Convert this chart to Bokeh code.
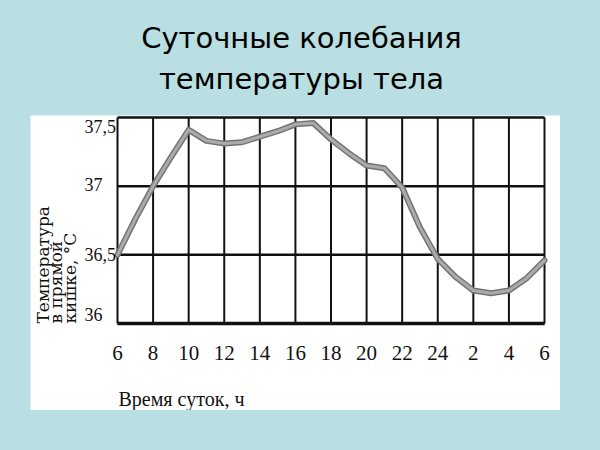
import math
from bokeh.plotting import figure
from bokeh.models import Range1d, Div, GlobalInlineStyleSheet
from bokeh.core.properties import value
from bokeh.layouts import column
from bokeh.embed import file_html
from bokeh.resources import INLINE

# ---- data ----
hours = list(range(0, 25))  # hours elapsed since 6:00
temps = [36.50, 36.76, 37.00, 37.21, 37.41, 37.33, 37.31, 37.32, 37.36, 37.40,
         37.45, 37.46, 37.34, 37.24, 37.15, 37.13, 36.99, 36.70, 36.47, 36.34,
         36.24, 36.22, 36.24, 36.33, 36.46]
x_ticks = list(range(0, 25, 2))
x_tick_labels = ["6", "8", "10", "12", "14", "16", "18", "20", "22", "24", "2", "4", "6"]
y_ticks = [36.0, 36.5, 37.0, 37.5]
y_tick_labels = ["36", "36,5", "37", "37,5"]
title_lines = ["Суточные колебания", "температуры тела"]
y_title_lines = ["Температура", "в прямой", "кишке, °С"]
x_title = "Время суток, ч"

# ---- styling / geometry ----
BG = "#b9dfe2"
SERIF = "Liberation Serif"
INK = "#111111"
FIG_W, FIG_H = 530, 295             # white panel
BOX_L, BOX_R, BOX_T, BOX_B = 87, 16, 2, 87   # gaps between panel edge and chart box

x0, x1 = hours[0], hours[-1]
y0, y1 = y_ticks[0], y_ticks[-1]
ppx = (FIG_W - BOX_L - BOX_R) / (x1 - x0)
ppy = (FIG_H - BOX_T - BOX_B) / (y1 - y0)
x_range = Range1d(x0 - BOX_L / ppx, x1 + BOX_R / ppx)
y_range = Range1d(y0 - BOX_B / ppy, y1 + BOX_T / ppy)

p = figure(width=FIG_W, height=FIG_H, output_backend="svg", toolbar_location=None,
           x_range=x_range, y_range=y_range,
           x_axis_location=None, y_axis_location=None,
           min_border=0, border_fill_color="white", background_fill_color="white",
           outline_line_color=None)
p.grid.visible = False
p.margin = (0, 0, 0, 30)

# chart grid
p.segment(x0=x_ticks, y0=[y0] * len(x_ticks), x1=x_ticks, y1=[y1] * len(x_ticks),
          line_color=INK, line_width=2)
p.segment(x0=[x0] * len(y_ticks), y0=y_ticks, x1=[x1] * len(y_ticks), y1=y_ticks,
          line_color=INK, line_width=2.5)
p.segment(x0=[x0], y0=[y0], x1=[x1], y1=[y0], line_color=INK, line_width=3.5)

# curve
p.line(hours, temps, line_color="#747474", line_width=6, line_join="round", line_cap="round")
p.line(hours, temps, line_color="#ababab", line_width=3, line_join="round", line_cap="round")

# y tick labels (left aligned, end labels nudged inside like the original)
y_nudge = [-9, 0, -1.5, 9]
p.text(x=[x0] * len(y_ticks), y=y_ticks, text=y_tick_labels, x_offset=-33, y_offset=y_nudge,
       text_align="left", text_baseline="middle", text_font=value(SERIF),
       text_font_size="18px", text_color=INK)

# x tick labels
p.text(x=x_ticks, y=[y0] * len(x_ticks), text=x_tick_labels, y_offset=29,
       text_align="center", text_baseline="middle", text_font=value(SERIF),
       text_font_size="21px", text_color=INK)

# x title
p.text(x=[x0], y=[y0], text=[x_title], x_offset=1, y_offset=75,
       text_align="left", text_baseline="alphabetic", text_font=value(SERIF),
       text_font_size="20px", text_color=INK)

# y title, rotated, three lines
p.text(x=[x0] * 3, y=[y0] * 3, text=y_title_lines, x_offset=[-75, -62, -48], y_offset=0,
       angle=math.pi / 2, text_align="left", text_baseline="alphabetic",
       text_font=value("DejaVu Serif"), text_font_size="17px", text_color=INK)

title = Div(text='<div style="width:600px;text-align:center;font-family:\'DejaVu Sans\',sans-serif;'
                 'font-size:29px;line-height:41px;padding-top:18px;padding-left:3px;'
                 'box-sizing:border-box;color:#000;">'
                 + title_lines[0] + "<br>" + title_lines[1] + "</div>",
            width=600, height=115, margin=(0, 0, 0, 0))

page_css = GlobalInlineStyleSheet(css="html, body { background-color: %s; overflow: hidden; }" % BG)
layout = column(title, p, width=600, height=450, stylesheets=[page_css],
                styles={"background-color": BG})

open("out.html", "w").write(file_html(layout, INLINE))
